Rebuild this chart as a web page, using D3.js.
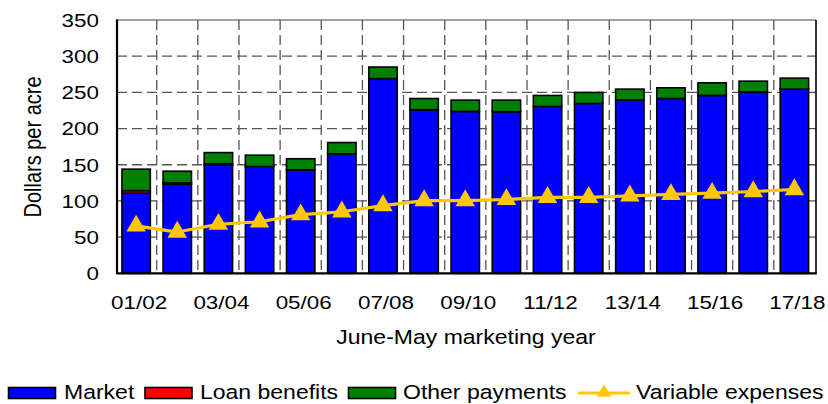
<!DOCTYPE html>
<html>
<head>
<meta charset="utf-8">
<script src="https://cdn.jsdelivr.net/npm/d3@7"></script>
<style>
html,body{margin:0;padding:0;background:#fff;}
svg{display:block;font-family:"Liberation Sans",Arial,sans-serif;}
</style>
</head>
<body>
<svg id="chart" width="828" height="404"></svg>
<script>
const years = ["01/02","02/03","03/04","04/05","05/06","06/07","07/08","08/09","09/10","10/11","11/12","12/13","13/14","14/15","15/16","16/17","17/18"];
const market = [110.7,123.1,149.4,147.5,143,165,269,226,223.6,223.2,230.5,234.6,239.3,241.5,245.7,250.4,254.5];
const loanBenefits = [3.6,2,2,0,0,0,0,0,0,0,0,0,0,0,0,0,0];
const otherPayments = [29.6,16,15.4,15.7,15.3,15.7,16,15.5,15.7,16.1,15.2,15.3,15.2,14.8,17.5,15.1,15.2];
const variableExpenses = [65.5,57,67.8,71.2,81,85,93.5,100.5,100.5,102,105,105,107,109,110.7,113,115.8];
const xTickLabels = ["01/02","03/04","05/06","07/08","09/10","11/12","13/14","15/16","17/18"];
const yTicks = [0,50,100,150,200,250,300,350];
const seriesNames = ["Market","Loan benefits","Other payments"];
const seriesColors = ["#0000FF","#FF0000","#008000"];
const lineName = "Variable expenses";
const lineColor = "#FFC800";

const svg = d3.select("#chart");
const L = 117, R = 816, T = 20, B = 273.3;
const SX = 1.18;

const x = d3.scaleBand().domain(years).range([L, R]).paddingInner(0.31).paddingOuter(0.15).align(0.4);
const y = d3.scaleLinear().domain([0, 350]).range([B, T]);

const table = years.map((yr, i) => ({year: yr, market: market[i], loan: loanBenefits[i], other: otherPayments[i]}));
const stack = d3.stack().keys(["market","loan","other"])(table);

// grid
const grid = svg.append("g");
grid.selectAll("line.h").data(yTicks.filter(v => v > 0 && v < 350)).join("line")
  .attr("x1", L).attr("x2", R).attr("y1", d => y(d)).attr("y2", d => y(d))
  .attr("stroke", "#555").attr("stroke-width", 1.3).attr("stroke-dasharray", "10,5");
const step = x.step(), bw = x.bandwidth();
grid.selectAll("line.v").data(years.slice(0, -1)).join("line")
  .attr("x1", d => x(d) + bw + (step - bw) / 2).attr("x2", d => x(d) + bw + (step - bw) / 2)
  .attr("y1", T).attr("y2", B)
  .attr("stroke", "#555").attr("stroke-width", 1.3).attr("stroke-dasharray", "10,5");

// bars
svg.append("g").selectAll("g").data(stack).join("g")
  .attr("fill", (d, i) => seriesColors[i])
  .selectAll("rect").data(d => d.filter(s => s[1] - s[0] > 0)).join("rect")
  .attr("x", d => x(d.data.year)).attr("width", bw)
  .attr("y", d => y(d[1])).attr("height", d => y(d[0]) - y(d[1]))
  .attr("stroke", "#000").attr("stroke-width", 1.6);

// frame
svg.append("line").attr("x1", L).attr("x2", R).attr("y1", T).attr("y2", T).attr("stroke", "#444").attr("stroke-width", 1.2);
svg.append("line").attr("x1", R).attr("x2", R).attr("y1", T).attr("y2", B).attr("stroke", "#000").attr("stroke-width", 1.6);
svg.append("line").attr("x1", L).attr("x2", R + 0.8).attr("y1", B).attr("y2", B).attr("stroke", "#000").attr("stroke-width", 2.2);
svg.append("line").attr("x1", L).attr("x2", L).attr("y1", T - 0.6).attr("y2", B + 1).attr("stroke", "#000").attr("stroke-width", 2.2);

// variable expenses line
const cx = d => x(d) + bw / 2;
const line = d3.line().x((d, i) => cx(years[i])).y(d => y(d));
svg.append("path").datum(variableExpenses).attr("d", line)
  .attr("fill", "none").attr("stroke", lineColor).attr("stroke-width", 3.2).attr("stroke-linejoin", "round");
const tri = d3.symbol().type(d3.symbolTriangle).size(165);
svg.append("g").selectAll("path").data(variableExpenses).join("path")
  .attr("d", tri)
  .attr("transform", (d, i) => `translate(${cx(years[i])},${y(d)})`)
  .attr("fill", lineColor);

function txt(xp, yp, s, size, anchor, extra) {
  const g = svg.append("g").attr("transform", `translate(${xp},${yp}) ${extra || ""} scale(${SX},1)`);
  g.append("text").attr("font-size", size).attr("text-anchor", anchor).attr("fill", "#000").text(s);
  return g;
}

yTicks.forEach(v => txt(99, y(v) + 6.8, String(v), 19, "end"));
xTickLabels.forEach(s => txt(cx(s) + 3, 309, s, 19, "middle"));
txt(466, 344, "June-May marketing year", 19.5, "middle");
svg.append("g").attr("transform", `translate(41,147) scale(${SX},1) rotate(-90)`)
  .append("text").attr("font-size", 20).attr("text-anchor", "middle").text("Dollars per acre");

// legend
const legX = [8.5, 145, 348.5];
const legTextX = [64, 200, 403];
seriesNames.forEach((n, i) => {
  svg.append("rect").attr("x", legX[i]).attr("y", 387.5).attr("width", 47).attr("height", 11)
    .attr("fill", seriesColors[i]).attr("stroke", "#000").attr("stroke-width", 1.6);
  txt(legTextX[i], 399, n, 19.5, "start");
});
svg.append("line").attr("x1", 578).attr("x2", 630).attr("y1", 393).attr("y2", 393)
  .attr("stroke", lineColor).attr("stroke-width", 3.2);
svg.append("path").attr("d", d3.symbol().type(d3.symbolTriangle).size(90))
  .attr("transform", "translate(604,392.5)").attr("fill", lineColor);
txt(636, 399, lineName, 19.5, "start");
</script>
</body>
</html>
